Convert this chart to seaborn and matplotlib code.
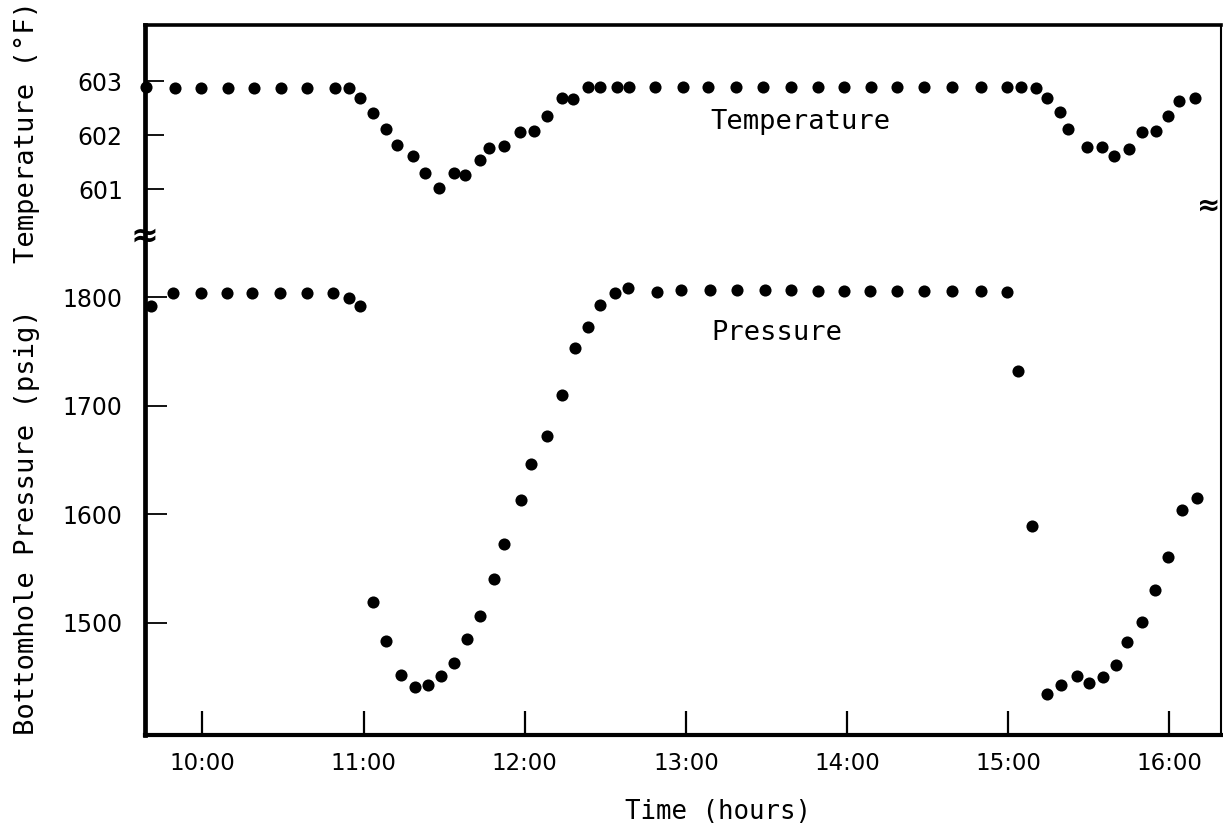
import matplotlib
matplotlib.use("Agg")
import matplotlib.pyplot as plt
import seaborn as sns
import pandas as pd

# ---------------- data ----------------
temp_time_h = [9.65, 9.83, 9.99, 10.16, 10.32, 10.49, 10.65, 10.82, 10.91, 10.98,
               11.06, 11.14, 11.21, 11.31, 11.38, 11.47, 11.56, 11.63, 11.72, 11.78,
               11.87, 11.97, 12.06, 12.14, 12.23, 12.30, 12.39, 12.47, 12.57, 12.65,
               12.81, 12.98, 13.14, 13.31, 13.48, 13.65, 13.82, 13.98, 14.15, 14.31,
               14.48, 14.65, 14.83, 14.99, 15.08, 15.17, 15.24, 15.32, 15.37, 15.49,
               15.58, 15.66, 15.75, 15.83, 15.92, 15.99, 16.06, 16.16]
temp_F = [602.90, 602.88, 602.88, 602.88, 602.88, 602.88, 602.88, 602.88, 602.88, 602.69,
          602.41, 602.12, 601.82, 601.62, 601.30, 601.02, 601.29, 601.27, 601.54, 601.77,
          601.80, 602.06, 602.07, 602.36, 602.68, 602.67, 602.89, 602.89, 602.89, 602.89,
          602.89, 602.89, 602.89, 602.89, 602.90, 602.89, 602.90, 602.90, 602.90, 602.90,
          602.89, 602.90, 602.89, 602.90, 602.90, 602.88, 602.69, 602.43, 602.12, 601.78,
          601.78, 601.61, 601.75, 602.06, 602.07, 602.35, 602.63, 602.68]

press_time_h = [9.68, 9.82, 9.99, 10.15, 10.31, 10.48, 10.65, 10.81, 10.91, 10.98,
                11.06, 11.14, 11.23, 11.32, 11.40, 11.48, 11.56, 11.64, 11.72, 11.81,
                11.87, 11.98, 12.04, 12.14, 12.23, 12.31, 12.39, 12.47, 12.56, 12.64,
                12.82, 12.97, 13.15, 13.32, 13.49, 13.65, 13.82, 13.98, 14.14, 14.31,
                14.48, 14.65, 14.83, 14.99, 15.06, 15.15, 15.24, 15.33, 15.43, 15.50,
                15.59, 15.67, 15.74, 15.83, 15.91, 15.99, 16.08, 16.17]
press_psig = [1792, 1804, 1804, 1804, 1804, 1804, 1804, 1804, 1799, 1792,
              1519, 1483, 1452, 1441, 1443, 1451, 1463, 1485, 1506, 1540,
              1573, 1613, 1646, 1672, 1710, 1753, 1773, 1793, 1804, 1809,
              1805, 1807, 1807, 1807, 1807, 1807, 1806, 1806, 1806, 1806,
              1806, 1806, 1806, 1805, 1732, 1589, 1434, 1443, 1451, 1444,
              1450, 1461, 1482, 1501, 1530, 1561, 1604, 1615]

time_ticks = [10, 11, 12, 13, 14, 15, 16]
time_labels = ["10:00", "11:00", "12:00", "13:00", "14:00", "15:00", "16:00"]
temp_ticks = [601, 602, 603]
press_ticks = [1500, 1600, 1700, 1800]

temp_df = pd.DataFrame({"time": temp_time_h, "temp": temp_F})
press_df = pd.DataFrame({"time": press_time_h, "press": press_psig})

# ---------------- style ----------------
sns.set_theme(style="white")
plt.rcParams["font.family"] = ["DejaVu Sans Mono", "DejaVu Sans"]
plt.rcParams["text.color"] = "black"

W, H = 1223, 834
fig = plt.figure(figsize=(W / 100, H / 100), dpi=100)
ax = fig.add_axes([145 / W, 1 - 735 / H, (1221 - 145) / W, (735 - 25) / H])
ax2 = ax.twinx()

sns.scatterplot(data=press_df, x="time", y="press", ax=ax, color="black",
                s=76, linewidth=0, clip_on=False, legend=False)
sns.scatterplot(data=temp_df, x="time", y="temp", ax=ax2, color="black",
                s=76, linewidth=0, clip_on=False, legend=False)

ax.set_xlim(9.644, 16.321)
ax.set_ylim(1396.5, 2051)
ax2.set_ylim(590.89, 604.04)

ax.set_xticks(time_ticks)
ax.set_xticklabels(time_labels)
ax.set_yticks(press_ticks)
ax2.set_yticks(temp_ticks)
ax2.yaxis.set_ticks_position("left")
ax2.yaxis.set_label_position("left")

for a in (ax, ax2):
    a.set_xlabel("")
    a.set_ylabel("")
    a.grid(False)

tick_font = "DejaVu Sans"
ax.tick_params(axis="x", direction="in", length=17, width=1.6, pad=12,
               labelsize=16.5, colors="black", labelfontfamily=tick_font,
               bottom=True, top=False)
ax.tick_params(axis="y", direction="in", length=16, width=1.3, pad=16,
               labelsize=17, colors="black", labelfontfamily=tick_font,
               left=True, right=False)
ax2.tick_params(axis="y", direction="in", length=14, width=1.3, pad=16,
                labelsize=17, colors="black", labelfontfamily=tick_font,
                left=True, right=False, labelleft=True, labelright=False)

for name, lw in (("left", 3.4), ("bottom", 3.0), ("top", 2.6), ("right", 1.5)):
    ax.spines[name].set_visible(True)
    ax.spines[name].set_color("black")
    ax.spines[name].set_linewidth(lw)
for s in ax2.spines.values():
    s.set_visible(False)

# series annotations
ax2.text(13.15, 602.24, "Temperature", fontsize=19.5, va="center", ha="left")
ax.text(13.16, 1767, "Pressure", fontsize=19.5, va="center", ha="left")

# axis labels
fig.text(27 / W, 1 - 132 / H, "Temperature (°F)", rotation=90,
         ha="center", va="center", fontsize=19.5)
fig.text(27 / W, 1 - 522 / H, "Bottomhole Pressure (psig)", rotation=90,
         ha="center", va="center", fontsize=19.5)
fig.text(718 / W, 1 - 812 / H, "Time (hours)", ha="center", va="center",
         fontsize=18.5)

# axis-break marks
fig.text(144 / W, 1 - 236 / H, "≈", ha="center", va="center", fontsize=24,
         fontweight="bold", family="DejaVu Sans")
fig.text(1209 / W, 1 - 206 / H, "≈", ha="center", va="center", fontsize=20,
         fontweight="bold", family="DejaVu Sans")

fig.savefig("out.png", dpi=100)
